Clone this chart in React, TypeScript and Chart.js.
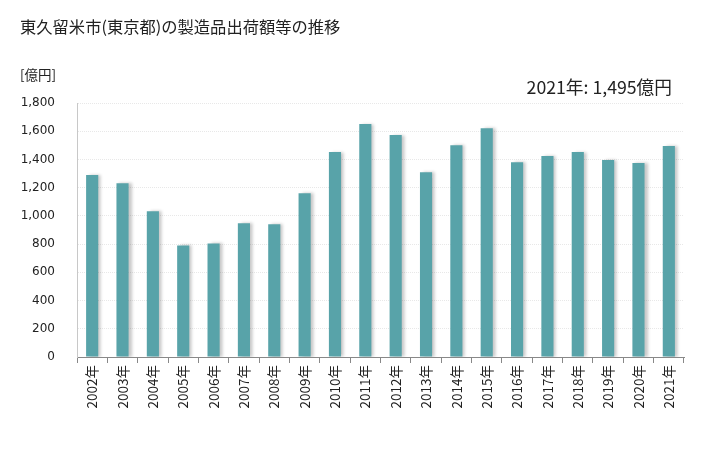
import React, { useEffect, useRef } from "react";
import { Chart, registerables } from "chart.js";

Chart.register(...registerables);

const titleText = "東久留米市(東京都)の製造品出荷額等の推移";
const unitLabel = "[億円]";
const annotationText = "2021年: 1,495億円";
const years = [
  "2002年", "2003年", "2004年", "2005年", "2006年", "2007年", "2008年", "2009年", "2010年", "2011年",
  "2012年", "2013年", "2014年", "2015年", "2016年", "2017年", "2018年", "2019年", "2020年", "2021年",
];
const values = [
  1289, 1232, 1033, 791, 805, 947, 940, 1161, 1453, 1652,
  1574, 1310, 1500, 1621, 1381, 1424, 1453, 1396, 1374, 1495,
];
const yMax = 1800;
const yStep = 200;

const JP = "'Noto Sans CJK JP', 'Noto Sans', sans-serif";

export default function App() {
  const ref = useRef<HTMLCanvasElement | null>(null);
  useEffect(() => {
    if (!ref.current) return;
    const shadowPlugin = {
      id: "barShadow",
      beforeDatasetDraw(chart: any) {
        const ctx = chart.ctx;
        ctx.save();
        ctx.shadowColor = "rgba(0,0,0,0.22)";
        ctx.shadowBlur = 3;
        ctx.shadowOffsetX = 3;
        ctx.shadowOffsetY = 0;
      },
      afterDatasetDraw(chart: any) {
        chart.ctx.restore();
      },
    };
    const textPlugin = {
      id: "texts",
      afterDraw(chart: any) {
        const ctx = chart.ctx;
        ctx.save();
        ctx.fillStyle = "#222";
        ctx.textBaseline = "middle";
        ctx.textAlign = "left";
        ctx.font = `16.3px ${JP}`;
        ctx.fillText(titleText, 20, 27);
        ctx.font = `13.5px ${JP}`;
        ctx.fillText(unitLabel, 20, 75);
        ctx.font = `17.7px ${JP}`;
        ctx.textAlign = "right";
        ctx.fillText(annotationText, 672, 87);
        ctx.restore();
      },
    };
    const chart = new Chart(ref.current, {
      type: "bar",
      data: {
        labels: years,
        datasets: [
          {
            data: values,
            backgroundColor: "#58a3a9",
            borderWidth: 0,
            barPercentage: 0.4,
            categoryPercentage: 1.0,
          },
        ],
      },
      options: {
        animation: false,
        responsive: false,
        maintainAspectRatio: false,
        layout: { padding: { top: 103, right: 44, left: 0, bottom: 0 } },
        plugins: {
          legend: { display: false },
          tooltip: { enabled: false },
          title: { display: false },
        },
        scales: {
          x: {
            grid: {
              display: true,
              drawOnChartArea: false,
              drawTicks: true,
              tickLength: 6,
              color: "#888",
              offset: true,
            },
            border: { display: true, color: "#888" },
            ticks: {
              minRotation: 90,
              maxRotation: 90,
              autoSkip: false,
              padding: 2,
              color: "#222",
              font: { family: JP, size: 13.5 },
            },
            afterFit(scale: any) {
              scale.height = 93;
            },
          },
          y: {
            min: 0,
            max: yMax,
            ticks: {
              stepSize: yStep,
              padding: 22,
              color: "#222",
              font: { family: "'DejaVu Sans', Verdana, sans-serif", size: 12 },
              callback: (v: any) => Number(v).toLocaleString("en-US"),
            },
            grid: { color: "#e8e8e8", drawTicks: false },
            border: { display: true, color: "#c8c8c8", dash: [1, 1] },
            afterFit(scale: any) {
              scale.width = 77;
            },
          },
        },
      },
      plugins: [shadowPlugin, textPlugin],
    });
    return () => chart.destroy();
  }, []);
  return (
    <div style={{ position: "fixed", left: 0, top: 0, width: 728, height: 450, background: "#fff" }}>
      <canvas ref={ref} width={728} height={450} style={{ display: "block" }} />
    </div>
  );
}
